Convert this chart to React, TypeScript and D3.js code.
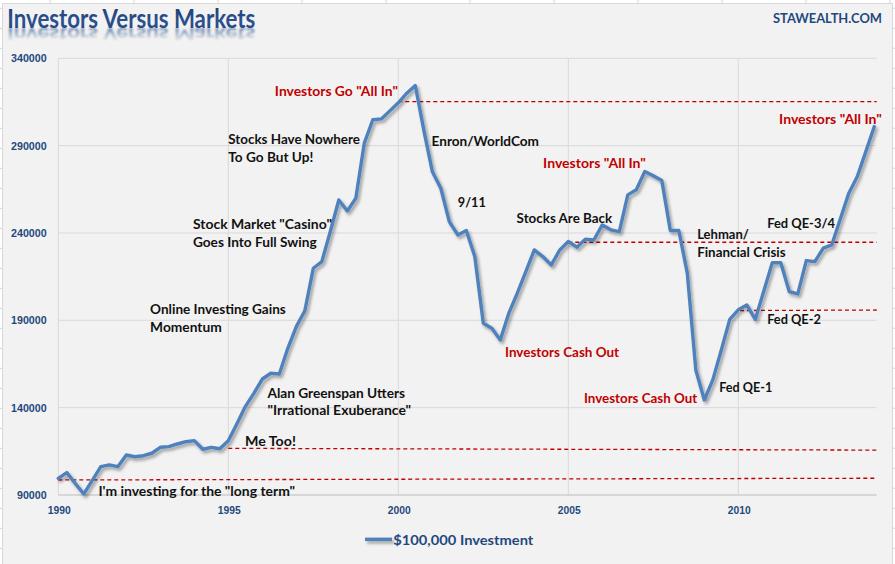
import React from "react";
import * as d3 from "d3";

// ---------- data ----------
const startYear = 1990;
// quarterly value of a $100,000 investment, 1990 Q1 .. 2014 Q1
const values = [
  99500, 102800, 96600, 90600, 98400, 106200, 107200, 106200, 112900, 111900,
  112500, 113900, 117300, 117700, 119200, 120500, 121100, 116200, 117300, 116500,
  121100, 130700, 140600, 148200, 156400, 159700, 159300, 174000, 186400, 195400,
  219800, 223600, 240800, 258900, 252600, 259900, 291400, 304800, 305300, 309900,
  314500, 320000, 324400, 298900, 275200, 265600, 246500, 238900, 241400, 226500,
  188300, 185500, 178800, 194100, 205500, 217900, 230300, 226500, 221700, 230300,
  235100, 231900, 236400, 236000, 244600, 241800, 240800, 261800, 264700, 275200,
  272700, 270000, 241400, 241400, 217000, 161600, 144400, 155900, 173000, 190600,
  196000, 198800, 190600, 206800, 223000, 223000, 206400, 205100, 224200, 223600,
  231300, 233200, 248000, 262800, 272300, 286600, 300900,
];
const yTicks = [90000, 140000, 190000, 240000, 290000, 340000];
const xTicks = [1990, 1995, 2000, 2005, 2010];
const seriesName = "$100,000 Investment";

// red dashed reference lines (start year, value at start, value at end)
const refStartYears = [1990, 1995, 2000, 2005, 2010.05];
const refStartValues = [98600, 116700, 315200, 234700, 195600];
const refEndValues = [99600, 115700, 315200, 234700, 195900];

// annotations (anchored in data coordinates: left edge year, first-line centre value)
const noteLines: string[][] = [
  ['Investors Go "All In"'],
  ["Stocks Have Nowhere", "To Go But Up!"],
  ['Stock Market "Casino"', "Goes Into Full Swing"],
  ["Online Investing Gains", "Momentum"],
  ["Alan Greenspan Utters", '"Irrational Exuberance"'],
  ["Me Too!"],
  ['I\'m investing for the "long term"'],
  ["Enron/WorldCom"],
  ["9/11"],
  ["Stocks Are Back"],
  ["Investors Cash Out"],
  ['Investors "All In"'],
  ["Lehman/", "Financial Crisis"],
  ["Investors Cash Out"],
  ["Fed QE-1"],
  ["Fed QE-2"],
  ["Fed QE-3/4"],
  ['Investors "All In"'],
];
const noteYears = [1996.37, 1995.0, 1993.96, 1992.7, 1996.15, 1995.49, 1991.18, 2000.98, 2001.75, 2003.48, 2003.14, 2004.26, 2008.79, 2005.46, 2009.44, 2010.85, 2010.85, 2011.2];
const noteValues = [321400, 293700, 245200, 196500, 148600, 120900, 92500, 292900, 257600, 248500, 171700, 280000, 239500, 145400, 151700, 190600, 245900, 305200];
const noteRed = [true, false, false, false, false, false, false, false, false, false, true, true, false, true, false, false, false, true];
const noteWidths: number[][] = [
  [123], [131.7, 85], [139, 123.7], [135.7, 71.7], [137.7, 143.7], [51], [196.7],
  [107.3], [28], [95.6], [114], [102.7], [51.7, 88.4], [113.3], [53], [53.7], [67.7], [102.7],
];

// ---------- layout ----------
const W = 895;
const H = 564;
const plotLeft = 58.3;
const plotRight = 876.7;
const plotTop = 58.3;
const plotBottom = 495;
const blue = "#4f81bd";
const navy = "#1f497d";
const red = "#c00000";
const annFont = "Lato, 'Open Sans', 'DejaVu Sans', sans-serif";
const numFont = "'Liberation Sans', Arial, sans-serif";

export default function App() {
  const endYear = 1990 + (plotRight - plotLeft) / 34;
  const x = d3.scaleLinear().domain([1990, endYear]).range([plotLeft, plotRight]);
  const y = d3.scaleLinear().domain([90000, 340000]).range([plotBottom, plotTop]);

  const line = d3
    .line<number>()
    .x((_, i) => x(startYear + i / 4))
    .y((d) => y(d))
    .curve(d3.curveLinear);

  // spreadsheet cell grid peeking around the chart object
  const colLines = d3.range(50, W, 84);
  const rowLines = d3.range(8.3, H, 20);

  return (
    <svg
      width={W}
      height={H}
      viewBox={`0 0 ${W} ${H}`}
      style={{ position: "absolute", left: 0, top: 0, background: "#ffffff" }}
    >
      <defs>
        <filter id="shadow" filterUnits="userSpaceOnUse" x="0" y="0" width={W} height={H}>
          <feDropShadow dx="2" dy="2.5" stdDeviation="1.4" floodColor="#000" floodOpacity="0.35" />
        </filter>
        <linearGradient id="titleGrad" x1="0" y1="0" x2="0" y2="1">
          <stop offset="0%" stopColor="#1c386a" />
          <stop offset="60%" stopColor="#2c5290" />
          <stop offset="100%" stopColor="#1f3f75" />
        </linearGradient>
        <linearGradient id="reflGrad" x1="0" y1="0" x2="0" y2="1">
          <stop offset="0%" stopColor="#fff" stopOpacity="0.75" />
          <stop offset="100%" stopColor="#fff" stopOpacity="0" />
        </linearGradient>
        <mask id="reflMask" maskUnits="userSpaceOnUse" x="0" y="0" width="300" height="60">
          <rect x="0" y="27.5" width="300" height="14" fill="url(#reflGrad)" />
        </mask>
        <filter id="blur">
          <feGaussianBlur stdDeviation="0.8" />
        </filter>
      </defs>

      {/* spreadsheet cells */}
      <g stroke="#d4d4d4" strokeWidth={1}>
        {colLines.map((cx) => (
          <line key={"c" + cx} x1={cx} x2={cx} y1={0} y2={H} />
        ))}
        {rowLines.map((ry) => (
          <line key={"r" + ry} x1={0} x2={W} y1={ry} y2={ry} />
        ))}
      </g>

      {/* chart area */}
      <rect x={2.5} y={3.5} width={890} height={H} fill="#f2f2f2" stroke="#d9d9d9" />

      {/* title */}
      <g mask="url(#reflMask)" filter="url(#blur)">
        <text
          x={7.3}
          y={28.3}
          transform="translate(0,48.0) scale(1,-0.7)"
          fontFamily={annFont}
          fontWeight={700}
          fontSize={26}
          fill="#2c5290"
          textLength={248}
          lengthAdjust="spacingAndGlyphs"
        >
          Investors Versus Markets
        </text>
      </g>
      <text
        x={7.3}
        y={28.3}
        fontFamily={annFont}
        fontWeight={700}
        fontSize={26}
        fill="url(#titleGrad)"
        textLength={248}
        lengthAdjust="spacingAndGlyphs"
      >
        Investors Versus Markets
      </text>

      <text
        x={882}
        y={18}
        textAnchor="end"
        dominantBaseline="central"
        fontFamily={annFont}
        fontWeight={700}
        fontSize={13}
        fill={navy}
        textLength={109}
        lengthAdjust="spacingAndGlyphs"
      >
        STAWEALTH.COM
      </text>

      {/* gridlines */}
      <g stroke="#d9d9d9" strokeWidth={1}>
        {yTicks.map((t) => (
          <line key={"gy" + t} x1={plotLeft} x2={plotRight} y1={y(t)} y2={y(t)} />
        ))}
        {xTicks.map((t) => (
          <line key={"gx" + t} x1={x(t)} x2={x(t)} y1={plotTop} y2={plotBottom} />
        ))}
      </g>
      <line x1={plotLeft} x2={plotRight} y1={plotBottom} y2={plotBottom} stroke="#c8c8c8" />

      {/* tick labels */}
      <g fontFamily={numFont} fontWeight={700} fill={navy}>
        {yTicks.map((t) => (
          <text key={"ly" + t} x={46.7} y={y(t)} textAnchor="end" dominantBaseline="central" fontSize={10.7}>
            {t}
          </text>
        ))}
        {xTicks.map((t) => (
          <text key={"lx" + t} x={x(t) + 1} y={510} textAnchor="middle" dominantBaseline="central" fontSize={10.3}>
            {t}
          </text>
        ))}
      </g>

      {/* reference dashed lines */}
      <g stroke={red} strokeWidth={1.3} strokeDasharray="4,3">
        {refStartYears.map((sy, i) => (
          <line
            key={"ref" + i}
            x1={x(sy)}
            x2={plotRight}
            y1={y(refStartValues[i])}
            y2={y(refEndValues[i])}
          />
        ))}
      </g>

      {/* series */}
      <path
        d={line(values) || ""}
        fill="none"
        stroke={blue}
        strokeWidth={3.4}
        strokeLinejoin="round"
        strokeLinecap="round"
        filter="url(#shadow)"
      />

      {/* annotations */}
      <g fontFamily={annFont} fontWeight={700} fontSize={13.5}>
        {noteLines.map((lines, i) =>
          lines.map((txt, j) => (
            <text
              key={"n" + i + "-" + j}
              x={x(noteYears[i])}
              y={y(noteValues[i]) + j * 17.8}
              dominantBaseline="central"
              fill={noteRed[i] ? red : "#111"}
              textLength={noteWidths[i][j]}
              lengthAdjust="spacingAndGlyphs"
            >
              {txt}
            </text>
          ))
        )}
      </g>

      {/* legend */}
      <path d="M365,539.3L392,539.3" stroke={blue} strokeWidth={3.4} fill="none" filter="url(#shadow)" />
      <text
        x={393.3}
        y={539.5}
        dominantBaseline="central"
        fontFamily={annFont}
        fontWeight={700}
        fontSize={14}
        fill={navy}
        textLength={140}
        lengthAdjust="spacingAndGlyphs"
      >
        {seriesName}
      </text>
    </svg>
  );
}
